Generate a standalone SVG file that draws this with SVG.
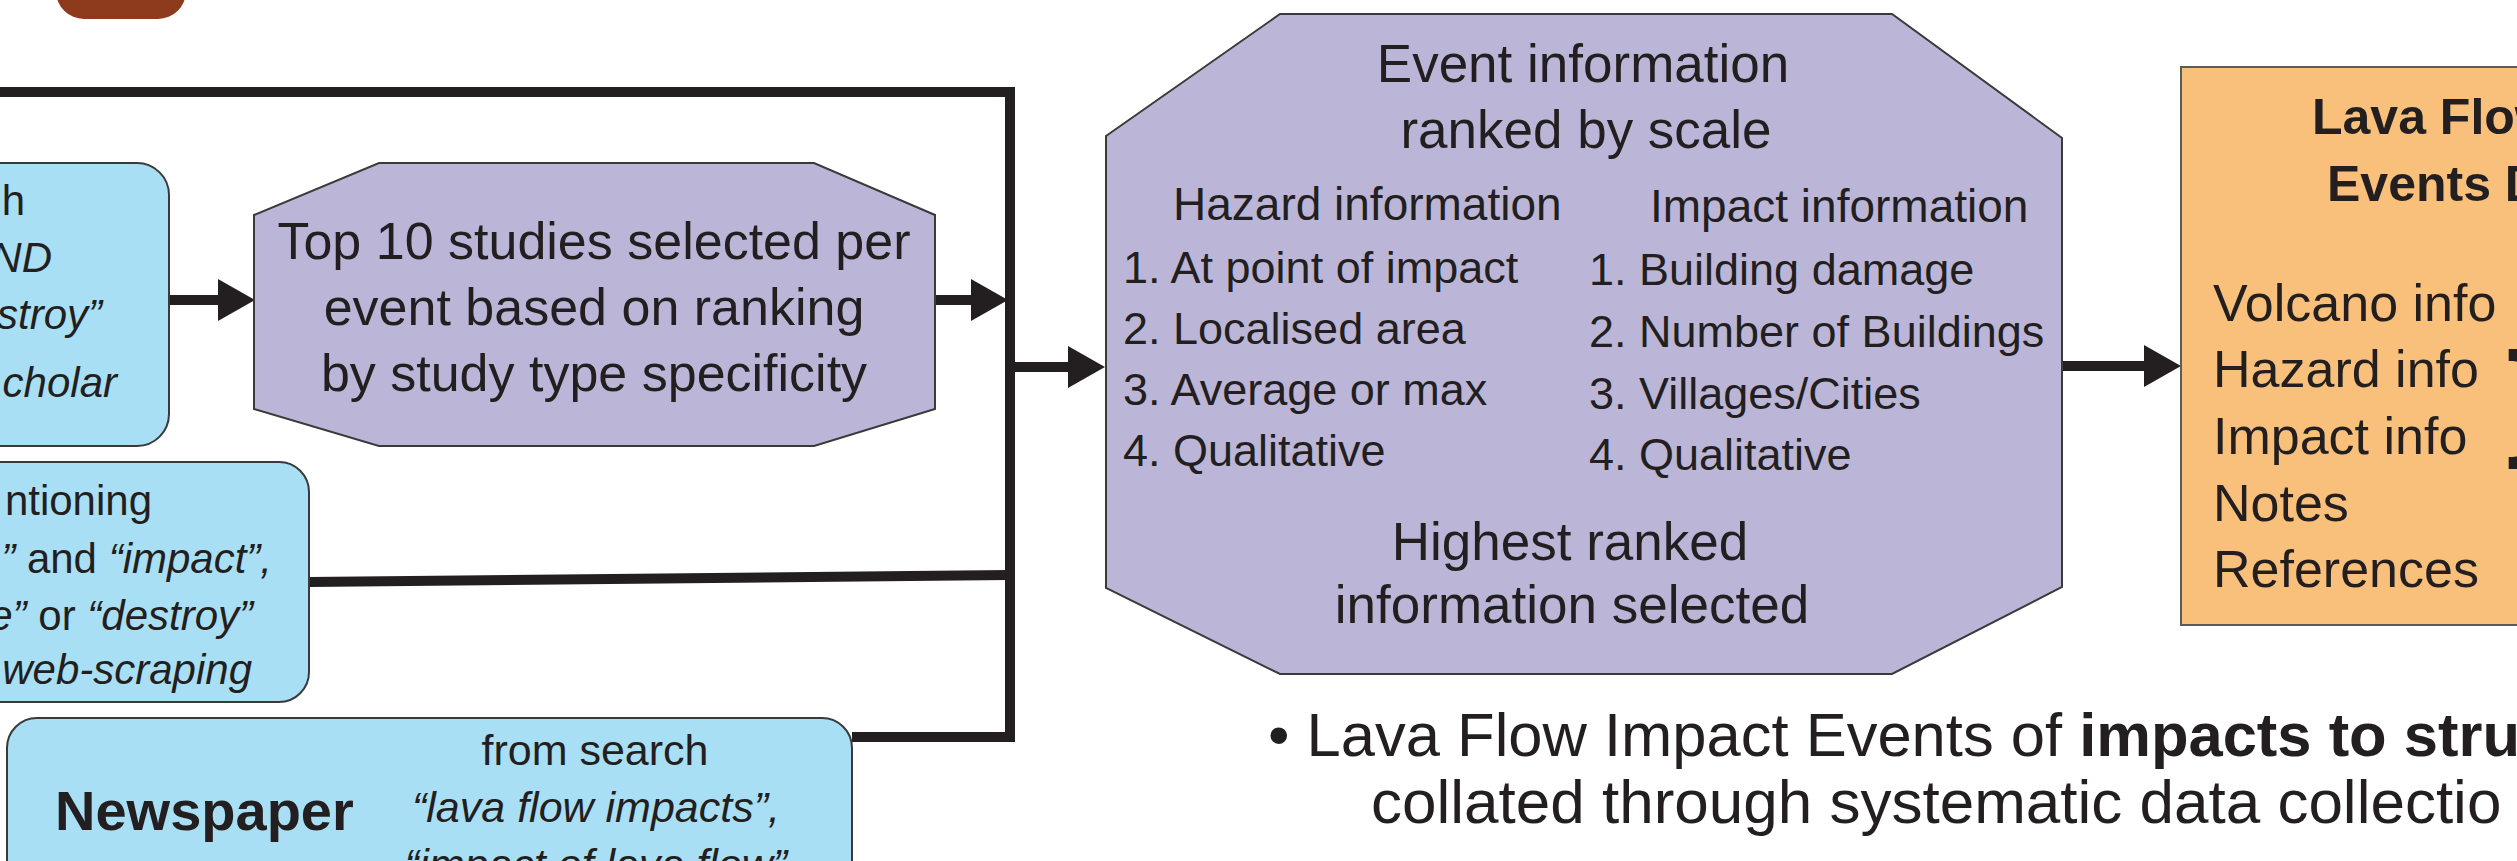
<svg xmlns="http://www.w3.org/2000/svg" width="2517" height="861" viewBox="0 0 2517 861">
<style>
text{font-family:"Liberation Sans",Arial,sans-serif;fill:#231F20}
.blue{fill:#A9DFF5;stroke:#3A3A3A;stroke-width:2}
.purple{fill:#BBB6D7;stroke:#3A3A3A;stroke-width:2}
.orange{fill:#F8C07A;stroke:#5A5A5A;stroke-width:2}
.conn{fill:none;stroke:#231F20;stroke-width:10}
.it{font-style:italic}
.b{font-weight:bold}
</style>
<defs>
<marker id="ah" markerUnits="userSpaceOnUse" markerWidth="37" markerHeight="42" viewBox="0 0 37 42" refX="10" refY="21" orient="auto">
<path d="M0,0 L37,21 L0,42 z" fill="#231F20"/>
</marker>
</defs>
<rect width="2517" height="861" fill="#FFFFFF"/>
<g id="brown-shape"><rect x="56" y="-80" width="130" height="99" rx="28" fill="#8E3A1C"/></g>

<g id="connectors">
<path class="conn" d="M-10,92 H1010 V737 H852"/>
<path class="conn" d="M309,582 L1010,575"/>
<path class="conn" d="M169,300 H228" marker-end="url(#ah)"/>
<path class="conn" d="M935,300 H981" marker-end="url(#ah)"/>
<path class="conn" d="M1010,367 H1078" marker-end="url(#ah)"/>
<path class="conn" d="M2062,366 H2154" marker-end="url(#ah)"/>
</g>

<g id="node-scholar">
<rect class="blue" x="-40" y="163" width="209" height="283" rx="32"/>
<text x="25" y="215" font-size="42" text-anchor="end">h</text>
<text x="52" y="272" font-size="42" text-anchor="end" class="it">ND</text>
<text x="102" y="329" font-size="42" text-anchor="end" class="it">stroy”</text>
<text x="117" y="397" font-size="42" text-anchor="end" class="it">cholar</text>
</g>

<g id="node-web">
<rect class="blue" x="-40" y="462" width="349" height="240" rx="30"/>
<text x="152" y="515" font-size="42" text-anchor="end">ntioning</text>
<text x="272" y="573" font-size="42" text-anchor="end"><tspan class="it">”</tspan> and <tspan class="it">“impact”,</tspan></text>
<text x="253" y="630" font-size="42" text-anchor="end"><tspan class="it">e”</tspan> or <tspan class="it">“destroy”</tspan></text>
<text x="252" y="684" font-size="42" text-anchor="end" class="it">web-scraping</text>
</g>

<g id="node-newspaper">
<rect class="blue" x="7" y="718" width="845" height="220" rx="30"/>
<text x="55" y="830" font-size="56" class="b">Newspaper</text>
<text x="595" y="765" font-size="43" text-anchor="middle">from search</text>
<text x="596" y="822" font-size="43" text-anchor="middle" class="it">“lava flow impacts”,</text>
<text x="596" y="879" font-size="43" text-anchor="middle" class="it">“impact of lava flow”</text>
</g>

<g id="node-top10">
<polygon class="purple" points="254,215 379,163 814,163 935,215 935,409 814,446 379,446 254,409"/>
<text x="594" y="259" font-size="52" text-anchor="middle">Top 10 studies selected per</text>
<text x="594" y="325" font-size="52" text-anchor="middle">event based on ranking</text>
<text x="594" y="391" font-size="52" text-anchor="middle">by study type specificity</text>
</g>

<g id="node-event-info">
<polygon class="purple" points="1106,136 1280,14 1892,14 2062,138 2062,587 1892,674 1280,674 1106,588"/>
<text x="1583" y="82" font-size="53" text-anchor="middle">Event information</text>
<text x="1586" y="148" font-size="53" text-anchor="middle">ranked by scale</text>
<text x="1173" y="220" font-size="46">Hazard information</text>
<text x="1123" y="283" font-size="45">1. At point of impact</text>
<text x="1123" y="344" font-size="45">2. Localised area</text>
<text x="1123" y="405" font-size="45">3. Average or max</text>
<text x="1123" y="466" font-size="45">4. Qualitative</text>
<text x="1650" y="222" font-size="46">Impact information</text>
<text x="1589" y="285" font-size="45">1. Building damage</text>
<text x="1589" y="347" font-size="45">2. Number of Buildings</text>
<text x="1589" y="409" font-size="45">3. Villages/Cities</text>
<text x="1589" y="470" font-size="45">4. Qualitative</text>
<text x="1570" y="560" font-size="53" text-anchor="middle">Highest ranked</text>
<text x="1572" y="623" font-size="53" text-anchor="middle">information selected</text>
</g>

<g id="node-database">
<rect class="orange" x="2181" y="67" width="400" height="558"/>
<text x="2312" y="134" font-size="50" class="b">Lava Flow</text>
<text x="2327" y="201" font-size="50" class="b">Events D</text>
<text x="2213" y="321" font-size="52">Volcano info</text>
<text x="2213" y="387" font-size="52">Hazard info</text>
<text x="2213" y="454" font-size="52">Impact info</text>
<text x="2213" y="521" font-size="52">Notes</text>
<text x="2213" y="587" font-size="52">References</text>
<text x="2506" y="442" font-size="128" class="b">}</text>
</g>

<g id="bullet-text">
<text x="1268" y="756" font-size="61.5">• Lava Flow Impact Events of <tspan class="b">impacts to stru</tspan></text>
<text x="1371" y="823" font-size="62">collated through systematic data collectio</text>
</g>
</svg>
